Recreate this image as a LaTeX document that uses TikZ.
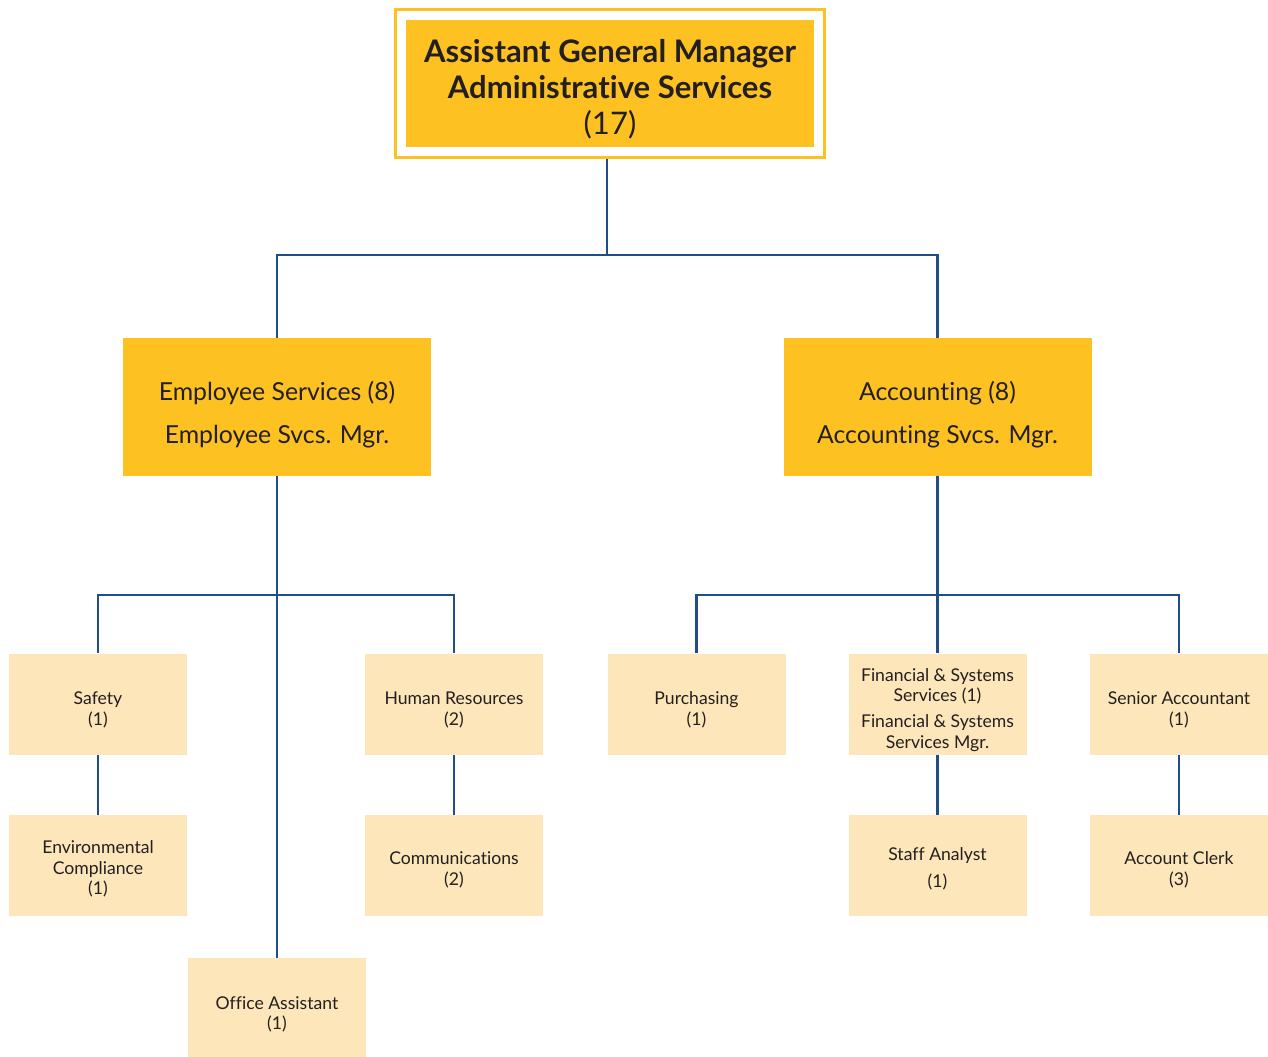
\documentclass[tikz,border=0pt]{standalone}
\usepackage{fontspec}
\setmainfont{Lato}[Ligatures=NoCommon]
\usetikzlibrary{positioning,fit}
\definecolor{gold}{HTML}{FDC221}
\definecolor{cream}{HTML}{FDE6B9}
\definecolor{navy}{HTML}{1F4E87}
\definecolor{ink}{HTML}{231F20}
\newcommand{\lift}[1]{\rule{0pt}{#1}}
\tikzset{
  every node/.style={text=ink},
  topbox/.style={fill=gold,align=center,inner sep=0pt,minimum width=306pt,minimum height=95.25pt,font=\fontsize{23.3}{27}\selectfont},
  frame/.style={draw=gold,line width=2.25pt,inner sep=7.4pt},
  headbox/.style={fill=gold,align=center,inner sep=0pt,minimum width=231pt,minimum height=103.5pt,font=\fontsize{18.6}{32}\selectfont},
  unit/.style={fill=cream,align=center,inner sep=0pt,minimum width=133.5pt,minimum height=75.75pt,font=\fontsize{13.2}{15.5}\selectfont},
  link/.style={draw=navy,line width=2.2pt},
}
\begin{document}
\begin{tikzpicture}[x=0.75pt,y=-0.75pt]
\useasboundingbox (0,0) rectangle (1268,1057);

% Top
\node[topbox] (agm) at (610,83.5) {\lift{26pt}\textbf{Assistant General Manager}\\\textbf{Administrative Services}\\(17)};
\node[frame,fit=(agm)] (agmframe) {};

% Divisions
\node[headbox] (emp) at (277,407) {\lift{25.5pt}Employee Services (8)\\Employee Svcs. Mgr.};
\node[headbox] (acc) at (937.5,407) {\lift{25.5pt}Accounting (8)\\Accounting Svcs. Mgr.};

% Employee services units
\node[unit] (safety) at (98,704) {\lift{18.6pt}Safety\\(1)};
\node[unit] (env) at (98,865.5) {\lift{15pt}Environmental\\Compliance\\(1)};
\node[unit] (hr) at (454,704) {\lift{18.6pt}Human Resources\\(2)};
\node[unit] (comm) at (454,865.5) {\lift{16pt}Communications\\(2)};
\node[unit] (office) at (277,1008.5) {\lift{18.6pt}Office Assistant\\(1)};

% Accounting units
\node[unit] (purch) at (696.5,704) {\lift{18.6pt}Purchasing\\(1)};
\node[unit] (fin) at (937.5,704) {\lift{18.6pt}Financial \& Systems\\Services (1)\\[4pt]Financial \& Systems\\Services Mgr.};
\node[unit] (senior) at (1179,704) {\lift{18.6pt}Senior Accountant\\(1)};
\node[unit] (staff) at (937.5,865.5) {\lift{15pt}Staff Analyst\\[5pt](1)};
\node[unit] (clerk) at (1179,865.5) {\lift{16pt}Account Clerk\\(3)};

% Buses
\coordinate (busTop) at (607,255);
\coordinate (busL) at (277,595);
\coordinate (busR) at (937.5,595);

% Links
\draw[link] (agmframe.south -| busTop) -- (busTop);
\draw[link] (emp.north) |- (busTop) -| (acc.north);
\draw[link] (safety.north) |- (busL) -| (hr.north);
\draw[link] (purch.north) |- (busR) -| (senior.north);
\foreach \a/\b in {emp/office,acc/fin,safety/env,hr/comm,fin/staff,senior/clerk}
  {\draw[link] (\a.south) -- (\b.north);}

\end{tikzpicture}
\end{document}
